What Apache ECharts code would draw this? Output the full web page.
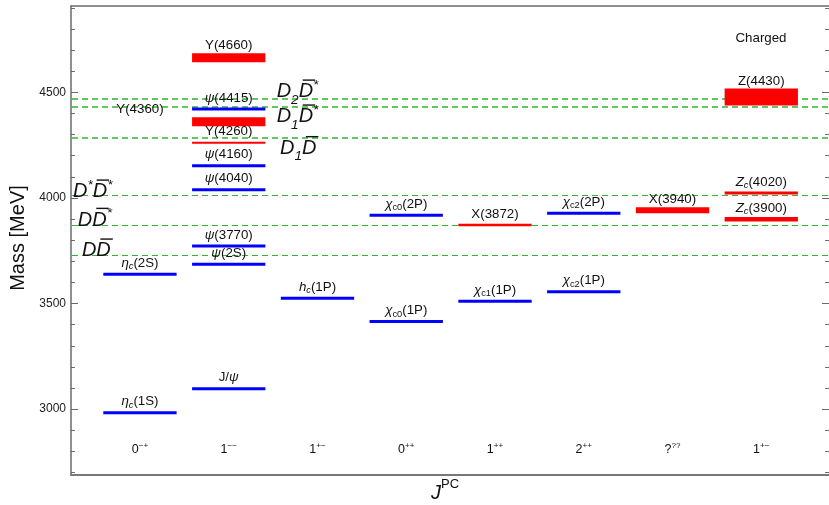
<!DOCTYPE html>
<html>
<head>
<meta charset="utf-8">
<title>Charmonium spectrum</title>
<style>
  html, body { margin: 0; padding: 0; background: #ffffff; }
  #chart { width: 829px; height: 505px; }
</style>
<script src="https://cdn.jsdelivr.net/npm/echarts@6/dist/echarts.min.js"></script>
</head>
<body>
<div id="chart"></div>
<script>
// ---- data ------------------------------------------------------------
// J^PC columns (markup: <i> italic, <sub>, <sup>, <bar> overline)
const categories = ['0<sup>−+</sup>', '1<sup>−−</sup>', '1<sup>+−</sup>', '0<sup>++</sup>',
                    '1<sup>++</sup>', '2<sup>++</sup>', '?<sup>??</sup>', '1<sup>+−</sup>'];

// conventional charmonium states
const conventionalNames = [
  '<i>η</i><sub><i>c</i></sub>(1S)', '<i>η</i><sub><i>c</i></sub>(2S)',
  'J/<i>ψ</i>', '<i>ψ</i>(2S)', '<i>ψ</i>(3770)', '<i>ψ</i>(4040)', '<i>ψ</i>(4160)', '<i>ψ</i>(4415)',
  '<i>h</i><sub><i>c</i></sub>(1P)',
  '<i>χ</i><sub>c0</sub>(1P)', '<i>χ</i><sub>c0</sub>(2P)',
  '<i>χ</i><sub>c1</sub>(1P)',
  '<i>χ</i><sub>c2</sub>(1P)', '<i>χ</i><sub>c2</sub>(2P)'
];
const conventionalColumn = [0, 0, 1, 1, 1, 1, 1, 1, 2, 3, 3, 4, 5, 5];
const conventionalMass   = [2983, 3639, 3097, 3686, 3773, 4039, 4153, 4421, 3525, 3415, 3918, 3511, 3556, 3927];

// exotic (XYZ) states
const exoticNames = [
  'Y(4660)', 'Y(4360)', 'Y(4260)', 'X(3872)', 'X(3940)', 'Z(4430)',
  '<i>Z</i><sub><i>c</i></sub>(4020)', '<i>Z</i><sub><i>c</i></sub>(3900)'
];
const exoticColumn = [1, 1, 1, 4, 6, 7, 7, 7];
const exoticMass   = [4664, 4361, 4261, 3872, 3942, 4478, 4024, 3899];

// open-charm thresholds
const thresholdNames = [
  'D<bar>D</bar>', 'D<bar>D</bar><sup>*</sup>', 'D<sup>*</sup><bar>D</bar><sup>*</sup>',
  'D<sub>1</sub><bar>D</bar>', 'D<sub>1</sub><bar>D</bar><sup>*</sup>', 'D<sub>2</sub><bar>D</bar><sup>*</sup>'
];
const thresholdMass = [3730, 3872, 4014, 4285, 4430, 4470];

// mass axis ticks
const massTickLabels = [3000, 3500, 4000, 4500];
const massMinorTicks = [2700, 2800, 2900, 3000, 3100, 3200, 3300, 3400, 3500, 3600, 3700, 3800,
                        3900, 4000, 4100, 4200, 4300, 4400, 4500, 4600, 4700, 4800, 4900];

// ---- styling / layout --------------------------------------------------
const FONT = '"Liberation Sans", Arial, Helvetica, sans-serif';
const BLUE = '#0000ff', RED = '#ff0000', GREEN = '#2fb52f', FRAME = '#6a6a6a', TEXT = '#111111';
const HALF = 0.413;               // half length of a level, in column units
const defaultThickness = 3;
const exoticThickness = {
  'Y(4660)': 9, 'Y(4360)': 9, 'Y(4260)': 2, 'X(3872)': 2.5,
  'X(3940)': 6, 'Z(4430)': 17, 'Zc(4020)': 3, 'Zc(3900)': 4.5
};
const labelColumnOverride = { 'Y(4360)': 0 };
// threshold caption anchors: column position of left edge, pixel offset from the line
const thresholdCaption = [
  { col: -0.654, dy: -4.2 }, { col: -0.700, dy: -4.9 }, { col: -0.755, dy: -3.2 },
  { col: 1.577, dy: 10.6 },  { col: 1.540, dy: 9.6 },   { col: 1.540, dy: -6.9 }
];
// the D-meson pair lines are hairlines; the excited-D pair lines a touch heavier
const thresholdLineWidth = [1, 1, 1, 1.3, 1.3, 1.3];

const stateLabelStyle = { size: 13.3, smallScale: 0.7, subShift: 0.26, supShift: 0.3, align: 'center', fill: TEXT };
const thresholdStyle  = { size: 20, italic: true, smallScale: 0.68, subShift: 0.4, supShift: 0.32, align: 'left', fill: TEXT,
                          barLift: 0.62, barThick: 0.07 };
const categoryStyle   = { size: 12.5, smallScale: 0.65, subShift: 0.3, supShift: 0.3, align: 'center', fill: TEXT };
const axisTitleStyle  = { size: 20, smallScale: 0.65, subShift: 0.3, supShift: 0.45, align: 'center', fill: TEXT };

// ---- rich text helper --------------------------------------------------
const measureCtx = document.createElement('canvas').getContext('2d');

function parseMarkup(markup) {
  const out = [];
  const st = { i: 0, sub: 0, sup: 0, bar: 0 };
  const re = /<(\/?)(i|sub|sup|bar)>/g;
  let last = 0, m;
  const push = (t) => { if (t) out.push({ text: t, i: st.i > 0, sub: st.sub > 0, sup: st.sup > 0, bar: st.bar > 0 }); };
  while ((m = re.exec(markup))) {
    push(markup.slice(last, m.index));
    st[m[2]] += m[1] ? -1 : 1;
    last = re.lastIndex;
  }
  push(markup.slice(last));
  return out;
}

function plainText(markup) { return markup.replace(/<[^>]+>/g, ''); }

function richElements(markup, cx, cy, o) {
  const parts = parseMarkup(markup);
  let adv = 0;
  const items = parts.map(p => {
    const small = p.sub || p.sup;
    const size = o.size * (small ? o.smallScale : 1);
    const font = (o.italic || p.i ? 'italic ' : '') + size + 'px ' + FONT;
    measureCtx.font = font;
    const w = measureCtx.measureText(p.text).width;
    const dy = p.sub ? o.size * o.subShift : (p.sup ? -o.size * o.supShift : 0);
    const it = { text: p.text, font, x: adv, w, dy, bar: p.bar, size };
    adv += w;
    return it;
  });
  const x0 = o.align === 'left' ? cx : cx - adv / 2;
  const els = [];
  items.forEach(it => {
    els.push({
      type: 'text',
      style: { text: it.text, x: x0 + it.x, y: cy + it.dy, font: it.font, fill: o.fill, align: 'left', verticalAlign: 'middle' }
    });
    if (it.bar) {
      const lift = o.barLift || 0.6, th = o.barThick || 0.07;
      els.push({
        type: 'rect',
        shape: { x: x0 + it.x + 0.2 * it.size, y: cy + it.dy - lift * it.size, width: it.w - 0.1 * it.size, height: th * it.size },
        style: { fill: o.fill }
      });
    }
  });
  return els;
}

// ---- assemble states ---------------------------------------------------
const states = [];
conventionalNames.forEach((n, k) => states.push({
  name: n, col: conventionalColumn[k], mass: conventionalMass[k], color: BLUE, thick: defaultThickness
}));
exoticNames.forEach((n, k) => {
  const key = plainText(n);
  states.push({ name: n, col: exoticColumn[k], mass: exoticMass[k], color: RED, thick: exoticThickness[key] || defaultThickness });
});
states.forEach(s => {
  const key = plainText(s.name);
  s.labelCol = (key in labelColumnOverride) ? labelColumnOverride[key] : s.col;
});

// ---- chart -------------------------------------------------------------
const X_MIN = -0.777, X_MAX = 7.763, Y_MIN = 2688, Y_MAX = 4909;

function massAxis(position, isMajor, showLabels) {
  return {
    type: 'value', position, min: Y_MIN, max: Y_MAX, offset: 0,
    axisLine: { show: position === 'left' && isMajor, onZero: false, lineStyle: { color: FRAME, width: 1.5 } },
    axisTick: {
      show: true, inside: true, length: isMajor ? 7 : 4,
      customValues: isMajor ? massTickLabels : massMinorTicks,
      lineStyle: { color: FRAME, width: 1 }
    },
    axisLabel: showLabels ? {
      show: true, customValues: massTickLabels, margin: 5,
      formatter: (v) => String(v),
      fontFamily: FONT, fontSize: 12, color: '#222'
    } : { show: false },
    splitLine: { show: false }
  };
}

const chart = echarts.init(document.getElementById('chart'), null, { renderer: 'canvas' });

chart.setOption({
  animation: false,
  backgroundColor: '#ffffff',
  grid: { left: 71, right: 0, top: 6, bottom: 30, containLabel: false },
  xAxis: [
    {
      type: 'value', position: 'bottom', min: X_MIN, max: X_MAX,
      axisLine: { show: true, onZero: false, lineStyle: { color: '#787878', width: 2 } },
      axisTick: { show: false }, axisLabel: { show: false }, splitLine: { show: false }
    },
    {
      type: 'value', position: 'top', min: X_MIN, max: X_MAX,
      axisLine: { show: true, onZero: false, lineStyle: { color: FRAME, width: 1.5 } },
      axisTick: { show: false }, axisLabel: { show: false }, splitLine: { show: false }
    }
  ],
  yAxis: [
    massAxis('left', true, true),
    massAxis('left', false, false),
    massAxis('right', true, false),
    massAxis('right', false, false)
  ],
  graphic: [
    {
      type: 'text', x: 18, y: 238, rotation: Math.PI / 2,
      style: { text: 'Mass [MeV]', font: '20px ' + FONT, fill: TEXT, align: 'center', verticalAlign: 'middle' }
    },
    { type: 'group', children: richElements('<i>J</i><sup>PC</sup>', 445, 493, axisTitleStyle) },
    {
      type: 'text', x: 761, y: 38,
      style: { text: 'Charged', font: '13.3px ' + FONT, fill: TEXT, align: 'center', verticalAlign: 'middle' }
    }
  ],
  series: [
    {
      // open-charm thresholds: dashed lines across the frame with captions
      type: 'custom', name: 'thresholds', clip: false,
      xAxisIndex: 0, yAxisIndex: 0, encode: { x: 0, y: 1 },
      data: thresholdMass.map((m, i) => [0, m, i]),
      renderItem(params, api) {
        const i = api.value(2);
        const cs = params.coordSys;
        const yRaw = api.coord([0, api.value(1)])[1];
        const lw = thresholdLineWidth[i];
        const y = lw > 1 ? Math.round(yRaw) : Math.round(yRaw) + 0.5;
        const cap = thresholdCaption[i];
        const cx = api.coord([cap.col, api.value(1)])[0];
        return {
          type: 'group',
          children: [
            {
              type: 'line',
              shape: { x1: cs.x + 1, y1: y, x2: cs.x + cs.width, y2: y },
              style: { stroke: GREEN, lineWidth: lw, lineDash: [6, 4] }
            }
          ].concat(richElements(thresholdNames[i], cx, yRaw + cap.dy, thresholdStyle))
        };
      }
    },
    {
      // energy levels with their names
      type: 'custom', name: 'states', clip: false,
      xAxisIndex: 0, yAxisIndex: 0, encode: { x: 0, y: 1 },
      data: states.map((s, i) => [s.col, s.mass, i]),
      renderItem(params, api) {
        const s = states[api.value(2)];
        const l = api.coord([s.col - HALF, s.mass]);
        const r = api.coord([s.col + HALF, s.mass]);
        const t = s.thick;
        const lx = api.coord([s.labelCol, s.mass])[0];
        const ly = l[1] - Math.max(11, t / 2 + 7.5);
        return {
          type: 'group',
          children: [
            { type: 'rect', shape: { x: l[0], y: l[1] - t / 2, width: r[0] - l[0], height: t }, style: { fill: s.color } }
          ].concat(richElements(s.name, lx, ly, stateLabelStyle))
        };
      }
    },
    {
      // J^PC column captions along the bottom of the frame
      type: 'custom', name: 'columns', clip: false,
      xAxisIndex: 0, yAxisIndex: 0, encode: { x: 0, y: 1 },
      data: categories.map((c, i) => [i, Y_MIN, i]),
      renderItem(params, api) {
        const cs = params.coordSys;
        const x = api.coord([api.value(0), Y_MIN])[0];
        return { type: 'group', children: richElements(categories[api.value(2)], x, cs.y + cs.height - 25, categoryStyle) };
      }
    }
  ]
});
</script>
</body>
</html>
